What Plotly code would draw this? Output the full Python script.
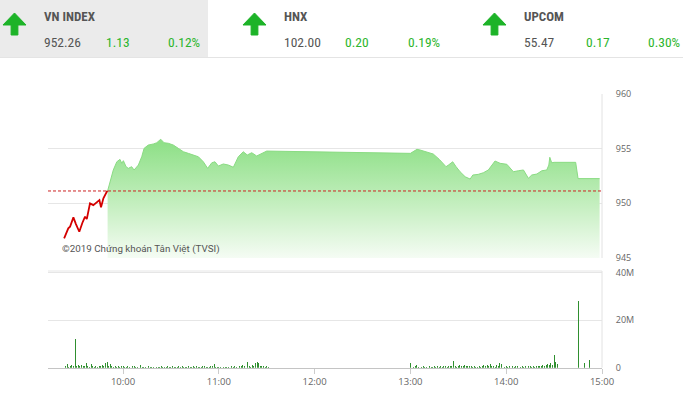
import plotly.graph_objects as go
import pandas as pd

DAY = "2019-06-20 "
W, H = 683, 398

# ---------------- data ----------------
ref_price = 951.13

red_time = ["09:23:06", "09:25:42", "09:26:48", "09:28:54", "09:30:30", "09:32:36", "09:34:30",
            "09:36:12", "09:37:18", "09:39:18", "09:41:24", "09:42:30", "09:45:12", "09:46:12",
            "09:47:42", "09:49:48", "09:50:20"]
red_price = [946.80, 947.71, 947.86, 948.72, 948.10, 947.40, 948.20,
             948.78, 948.56, 950.00, 949.84, 950.00, 950.30, 949.63,
             950.46, 951.06, 951.13]

green_time = ["09:50:20", "09:51:54", "09:53:54", "09:56:06", "09:57:06", "09:58:06", "09:59:12",
              "10:00:12", "10:01:54", "10:03:18", "10:05:24", "10:06:54", "10:09:36", "10:11:42",
              "10:13:12", "10:15:48", "10:19:00", "10:21:06", "10:23:36", "10:25:42", "10:28:24",
              "10:31:30", "10:34:36", "10:37:48", "10:40:54", "10:44:00", "10:47:12", "10:50:18",
              "10:53:00", "10:55:36", "10:57:36", "10:59:42", "11:02:48", "11:06:00", "11:09:06",
              "11:12:12", "11:15:18", "11:17:48", "11:20:36", "11:23:42", "11:26:54", "11:30:00",
              "13:00:00", "13:04:06", "13:06:00", "13:10:12", "13:14:18", "13:18:06", "13:22:18",
              "13:23:48", "13:26:30", "13:28:36", "13:31:06", "13:34:18", "13:37:24", "13:39:06",
              "13:42:30", "13:45:42", "13:48:48", "13:53:00", "13:56:12", "14:00:24", "14:04:30",
              "14:07:36", "14:10:48", "14:13:54", "14:16:00", "14:19:12", "14:22:18", "14:25:24",
              "14:26:42", "14:27:18", "14:28:30", "14:30:00", "14:43:30", "14:45:00", "14:58:30"]
green_price = [951.13, 952.00, 953.05, 953.80, 953.96, 954.02, 953.66,
               953.90, 953.35, 953.20, 953.35, 953.05, 953.50, 954.26,
               955.03, 955.33, 955.43, 955.54, 955.86, 955.54, 955.49,
               955.33, 955.03, 954.72, 954.57, 954.42, 954.26, 953.80,
               953.20, 953.71, 953.80, 953.41, 953.60, 953.50, 953.30,
               954.26, 954.72, 954.42, 954.63, 954.33, 954.57, 954.78,
               954.57, 954.94, 954.88, 954.72, 954.51, 954.02, 953.35,
               953.50, 953.80, 953.35, 952.89, 952.43, 952.22, 952.59,
               952.65, 952.80, 953.05, 953.87, 953.66, 953.57, 952.89,
               952.98, 953.05, 952.29, 952.59, 952.68, 952.98, 953.05,
               953.50, 954.21, 953.71, 953.75, 953.75, 952.26, 952.26]

# volume (millions), one bar per minute
vol_am_start = "09:23"
vol_am = [1.8, 0.9, 1.4, 0.5, 0.7, 1.1, 0.6, 12.0, 0.8, 1.0,
          0.7, 1.3, 0.6, 0.9, 2.0, 0.8, 0.5, 1.4, 0.6, 0.4,
          0.8, 0.5, 0.9, 0.6, 1.2, 0.7, 1.8, 2.2, 0.9, 1.5,
          0.6, 0.4, 0.7, 0.5, 0.9, 0.4, 0.6, 0.8, 0.3, 0.5,
          0.7, 0.4, 0.3, 0.6, 0.9, 0.4, 0.5, 0.3, 1.2, 0.4,
          0.5, 0.3, 0.4, 0.6, 0.3, 0.5, 0.4, 0.7, 0.3, 0.5,
          0.4, 0.6, 0.3, 0.5, 0.4, 0.7, 0.3, 0.5, 0.6, 0.4,
          0.3, 0.5, 0.7, 0.4, 0.6, 0.3, 0.5, 0.4, 0.8, 0.3,
          0.5, 0.6, 0.4, 0.7, 0.3, 0.5, 0.4, 0.6, 0.8, 0.4,
          0.5, 0.4, 0.6, 0.7, 1.6, 0.4, 0.3, 0.5, 0.2, 0.3,
          0.2, 0.4, 0.3, 0.2, 0.9, 0.6, 0.4, 0.8, 0.5, 1.0,
          0.7, 0.6, 1.1, 0.8, 0.9, 2.6, 0.7, 0.5, 1.3, 0.6,
          1.8, 2.4, 2.0, 0.9, 0.6, 0.8, 0.5, 0.7, 0.4]
vol_pm_start = "13:00"
vol_pm = [1.9, 0.6, 0.4, 0.7, 1.0, 0.5, 0.8, 0.4, 0.6, 0.3,
          0.5, 0.4, 0.6, 0.3, 0.5, 0.7, 0.4, 0.6, 0.5, 0.8,
          0.4, 0.6, 0.9, 0.5, 0.7, 0.6, 0.8, 2.7, 0.7, 0.5,
          0.9, 1.0, 0.6, 0.8, 1.1, 0.7, 0.9, 0.6, 0.8, 0.5,
          0.6, 0.4, 0.5, 0.7, 0.4, 0.6, 1.3, 0.8, 1.1, 0.6,
          1.4, 0.9, 0.7, 0.5, 1.2, 0.8, 2.0, 1.5, 0.6, 0.5,
          0.8, 0.5, 0.7, 0.6, 0.9, 0.5, 0.7, 0.6, 0.8, 0.5,
          0.6, 0.4, 0.7, 0.5, 0.6, 0.8, 0.5, 0.7, 0.4, 0.6,
          0.7, 0.9, 0.6, 1.1, 0.8, 1.0, 1.4, 1.2, 1.9, 1.1,
          5.4, 2.2, 1.5]
vol_atc_time = ["14:45", "14:49", "14:52"]
vol_atc = [28.0, 1.8, 3.3]

price_ticks = [945, 950, 955, 960]
vol_ticks = [0, 20e6, 40e6]
vol_tick_text = ["0", "20M", "40M"]
time_ticks = ["10:00", "11:00", "12:00", "13:00", "14:00", "15:00"]

indices = ["VN INDEX", "HNX", "UPCOM"]
index_values = ["952.26", "102.00", "55.47"]
index_changes = ["1.13", "0.20", "0.17"]
index_pcts = ["0.12%", "0.19%", "0.30%"]

# ---------------- build ----------------
def ts(t):
    return pd.Timestamp(DAY + t)

red_x = [ts(t) for t in red_time]
green_x = [ts(t) for t in green_time]
vol_x = (list(pd.date_range(ts(vol_am_start), periods=len(vol_am), freq="1min"))
         + list(pd.date_range(ts(vol_pm_start), periods=len(vol_pm), freq="1min"))
         + [ts(t) for t in vol_atc_time])
vol_y = [v * 1e6 for v in vol_am + vol_pm + vol_atc]


def px(x):
    return x / W


def py(y):
    return 1 - y / H


GREEN = "#2cb52c"
ARROW = "#1db328"
TXT = "#555555"
AX = "#666666"
GRID = "#e6e6e6"
HFONT = "Roboto Condensed, Liberation Sans Narrow, Roboto, sans-serif"
AFONT = "Open Sans, DejaVu Sans, sans-serif"

fig = go.Figure()

fig.add_trace(go.Scatter(
    x=green_x, y=green_price, mode="lines",
    line=dict(color="#8adb83", width=1),
    fill="tozeroy",
    fillgradient=dict(type="vertical", start=945, stop=955.5,
                      colorscale=[[0, "#f5fcf4"], [0.45, "#c6efc1"], [1, "#8fe088"]]),
    xaxis="x", yaxis="y", hoverinfo="skip", showlegend=False))

fig.add_trace(go.Scatter(
    x=red_x, y=red_price, mode="lines",
    line=dict(color="#d40000", width=1.8),
    xaxis="x", yaxis="y", hoverinfo="skip", showlegend=False))

fig.add_trace(go.Bar(
    x=vol_x, y=vol_y, width=35000,
    marker=dict(color="#2f8f2f", line=dict(width=0)),
    xaxis="x2", yaxis="y2", hoverinfo="skip", showlegend=False))

x_range = [ts("09:13:00"), ts("15:00:00")]
xdom = [px(48), px(602)]

fig.update_layout(
    width=W, height=H,
    margin=dict(l=0, r=0, t=0, b=0, autoexpand=False),
    paper_bgcolor="white", plot_bgcolor="white",
    bargap=0, hovermode=False,
    xaxis=dict(domain=xdom, range=x_range, type="date", showgrid=False,
               showticklabels=False, zeroline=False, anchor="y", fixedrange=True),
    yaxis=dict(domain=[py(258), py(94)], range=[945, 960], side="right",
               tickvals=price_ticks, ticktext=[str(v) for v in price_ticks],
               showgrid=True, gridcolor=GRID, gridwidth=1, zeroline=False,
               ticks="outside", ticklen=11, tickcolor="rgba(0,0,0,0)",
               tickfont=dict(family=AFONT, size=9, color=AX), anchor="x"),
    xaxis2=dict(domain=xdom, range=x_range, type="date", showgrid=False,
                tickvals=[ts(t) for t in time_ticks], ticktext=time_ticks,
                ticks="outside", ticklen=5, tickcolor="#cccccc",
                showline=True, linecolor="#c4c4c4", linewidth=1,
                tickfont=dict(family=AFONT, size=9.5, color=AX), anchor="y2"),
    yaxis2=dict(domain=[py(367.7), py(271)], range=[0, 40.8e6], side="right",
                tickvals=vol_ticks, ticktext=vol_tick_text,
                showgrid=True, gridcolor=GRID, zeroline=False,
                ticks="outside", ticklen=11, tickcolor="rgba(0,0,0,0)",
                tickfont=dict(family=AFONT, size=9, color=AX), anchor="x2"),
)

shapes = []
# reference price line
shapes.append(dict(type="line", xref="x domain", yref="y", x0=0, x1=1,
                   y0=ref_price, y1=ref_price,
                   line=dict(color="#cc2222", width=1, dash="3px,2px"), layer="above"))
# right borders and volume top border
shapes.append(dict(type="line", xref="paper", yref="paper", x0=px(602), x1=px(602),
                   y0=py(258), y1=py(94), line=dict(color="#e2e2e2", width=1)))
shapes.append(dict(type="line", xref="paper", yref="paper", x0=px(602), x1=px(602),
                   y0=py(367.7), y1=py(271), line=dict(color="#e2e2e2", width=1)))
shapes.append(dict(type="line", xref="paper", yref="paper", x0=px(48), x1=px(602),
                   y0=py(271), y1=py(271), line=dict(color="#e6e6e6", width=1)))
# header background
shapes.append(dict(type="rect", xref="paper", yref="paper", x0=0, x1=px(208),
                   y0=py(57), y1=1, fillcolor="#ebebeb", line=dict(width=0), layer="below"))
shapes.append(dict(type="line", xref="paper", yref="paper", x0=0, x1=1,
                   y0=py(57.5), y1=py(57.5), line=dict(color="#e4e4e4", width=1)))

annotations = []
for i, name in enumerate(indices):
    ox = 240 * i
    cx = 14.5 + ox
    pts = [(cx - 11.5, 25), (cx, 13), (cx + 11.5, 25), (cx + 3.4, 25), (cx + 3.4, 35),
           (cx - 3.4, 35), (cx - 3.4, 25)]
    path = "M " + " L ".join(f"{px(a):.5f},{py(b):.5f}" for a, b in pts) + " Z"
    shapes.append(dict(type="path", xref="paper", yref="paper", path=path,
                       fillcolor=ARROW, line=dict(color=ARROW, width=1)))
    annotations.append(dict(x=px(42 + ox), y=py(16.5), xref="paper", yref="paper",
                            xanchor="left", yanchor="middle", showarrow=False,
                            text=f"<b>{name}</b>",
                            font=dict(family=HFONT, size=13, color=TXT)))
    annotations.append(dict(x=px(42 + ox), y=py(41.5), xref="paper", yref="paper",
                            xanchor="left", yanchor="middle", showarrow=False,
                            text=index_values[i],
                            font=dict(family=HFONT, size=13.5, color=TXT)))
    annotations.append(dict(x=px(103.5 + ox), y=py(41.5), xref="paper", yref="paper",
                            xanchor="left", yanchor="middle", showarrow=False,
                            text=index_changes[i],
                            font=dict(family=HFONT, size=13.5, color=GREEN)))
    annotations.append(dict(x=px(165.5 + ox), y=py(41.5), xref="paper", yref="paper",
                            xanchor="left", yanchor="middle", showarrow=False,
                            text=index_pcts[i],
                            font=dict(family=HFONT, size=13.5, color=GREEN)))

annotations.append(dict(x=px(60), y=py(249), xref="paper", yref="paper",
                        xanchor="left", yanchor="middle", showarrow=False,
                        text="©2019 Chứng khoán Tân Việt (TVSI)",
                        font=dict(family="Roboto, sans-serif", size=9.8, color="#555555")))

fig.update_layout(shapes=shapes, annotations=annotations)
fig.write_html("out.html",
               config={"displayModeBar": False, "staticPlot": True},
               post_script="document.body.style.margin='0px';"
                           "document.body.style.overflow='hidden';")
